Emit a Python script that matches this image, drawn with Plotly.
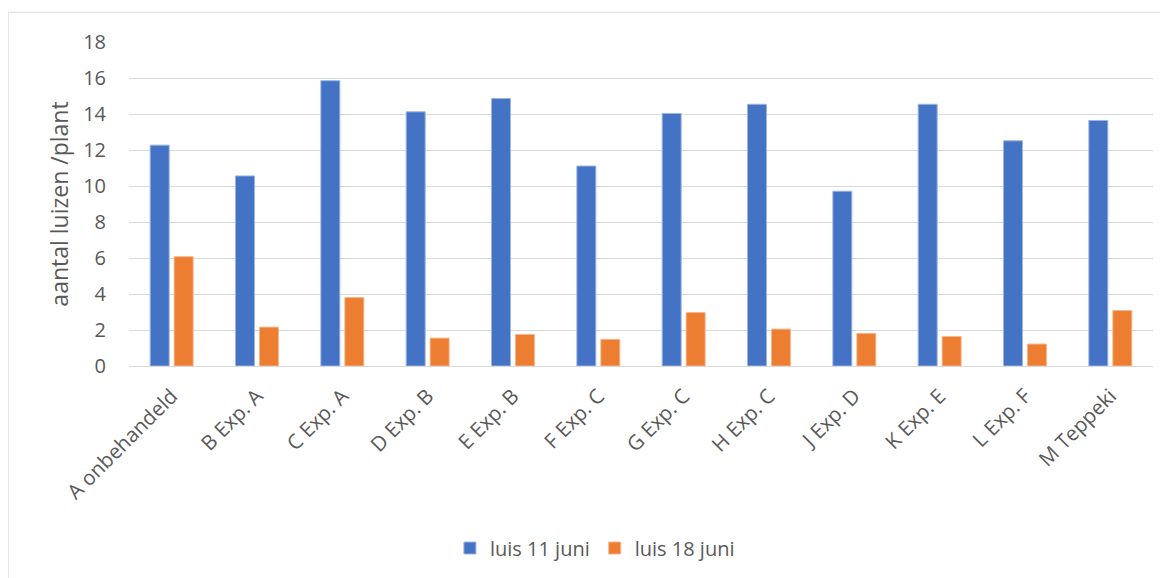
import plotly.graph_objects as go

categories = ["A onbehandeld", "B Exp. A", "C Exp. A", "D Exp. B", "E Exp. B", "F Exp. C",
              "G Exp. C", "H Exp. C", "J Exp. D", "K Exp. E", "L Exp. F", "M Teppeki"]
luis_11_juni = [12.27, 10.56, 15.85, 14.12, 14.86, 11.11, 14.03, 14.54, 9.71, 14.54, 12.51, 13.64]
luis_18_juni = [6.07, 2.16, 3.80, 1.55, 1.75, 1.48, 2.97, 2.05, 1.81, 1.64, 1.22, 3.08]
y_ticks = [0, 2, 4, 6, 8, 10, 12, 14, 16, 18]

FONT = "Open Sans, Liberation Sans, sans-serif"
GRAY = "#595959"

fig = go.Figure()
fig.add_trace(go.Bar(x=categories, y=luis_11_juni, name="luis 11 juni",
                     marker=dict(color="#4472C4", line=dict(color="#9DB4E0", width=1))))
fig.add_trace(go.Bar(x=categories, y=luis_18_juni, name="luis 18 juni",
                     marker=dict(color="#ED7D31", line=dict(color="#F5B58C", width=1))))

fig.update_layout(
    width=1160, height=570,
    margin=dict(l=121, r=15, t=34, b=211),
    paper_bgcolor="white", plot_bgcolor="white",
    barmode="group", bargap=0.438, bargroupgap=0.208,
    font=dict(family=FONT, color=GRAY, size=18),
    showlegend=True,
    legend=dict(orientation="h", x=0.455, xanchor="center", y=-0.557, yanchor="middle",
                font=dict(size=20, color=GRAY), traceorder="normal"),
    xaxis=dict(tickangle=-45, showgrid=False, showline=True, linecolor="#D9D9D9", linewidth=1,
               ticks="", ticklabelstandoff=9, tickfont=dict(size=20.5, color=GRAY)),
    yaxis=dict(range=[0, 18], tickvals=y_ticks, showgrid=True, gridcolor="#D9D9D9", gridwidth=1,
               zeroline=False, ticks="", showline=False, ticklabelstandoff=22,
               tickfont=dict(size=20, color=GRAY),
               title=dict(text="aantal luizen /plant", font=dict(size=23, color=GRAY), standoff=8)),
    shapes=[dict(type="rect", xref="paper", yref="paper", x0=-0.118, x1=1.3, y0=-1.0, y1=1.092,
                 line=dict(color="#D9D9D9", width=1), fillcolor="rgba(0,0,0,0)", layer="below")],
)

fig.write_html("out.html")
